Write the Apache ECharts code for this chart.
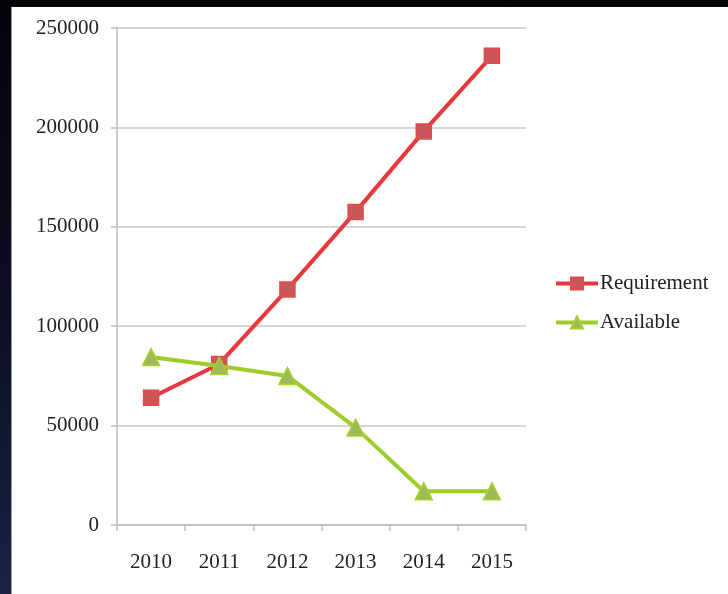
<!DOCTYPE html>
<html>
<head>
<meta charset="utf-8">
<script src="https://cdn.jsdelivr.net/npm/echarts@6/dist/echarts.min.js"></script>
<style>
  html, body { margin: 0; padding: 0; }
  body {
    width: 728px; height: 594px; overflow: hidden; position: relative;
    background: linear-gradient(180deg, #03040a 0%, #0d1024 55%, #1c2244 100%);
  }
  #chart {
    position: absolute; left: 11px; top: 7px; width: 717px; height: 587px;
    background: #ffffff; border-left: 1px solid #9a9aa0; box-sizing: border-box;
  }
</style>
</head>
<body>
<div id="chart"></div>
<script>
var years = ['2010', '2011', '2012', '2013', '2014', '2015'];
var requirement = [64000, 81000, 118500, 157500, 198000, 236000];
var available = [84500, 80000, 75000, 49000, 17000, 17000];

var chartDom = document.getElementById('chart');
var myChart = echarts.init(chartDom);

var fontName = 'Liberation Serif';

var option = {
  animation: false,
  backgroundColor: '#ffffff',
  grid: {
    left: 105,
    top: 21,
    width: 409,
    height: 497
  },
  legend: {
    orient: 'vertical',
    left: 542,
    top: 266,
    padding: 0,
    itemWidth: 42,
    itemHeight: 15,
    itemGap: 18,
    lineStyle: { width: 4 },
    textStyle: { fontFamily: fontName, fontSize: 21, color: '#222222', padding: [0, 0, 0, -3] },
    data: ['Requirement', 'Available']
  },
  xAxis: {
    type: 'category',
    data: years,
    boundaryGap: true,
    axisLine: { lineStyle: { color: '#bdbdbd', width: 1.5 } },
    axisTick: { show: true, length: 6, lineStyle: { color: '#bdbdbd', width: 1.5 } },
    axisLabel: { fontFamily: fontName, fontSize: 21, color: '#222222', margin: 27 }
  },
  yAxis: {
    type: 'value',
    min: 0,
    max: 250000,
    interval: 50000,
    axisLine: { show: true, lineStyle: { color: '#bdbdbd', width: 1.5 } },
    axisTick: { show: true, length: 6, lineStyle: { color: '#bdbdbd', width: 1.5 } },
    splitLine: { lineStyle: { color: '#c8c8c8', width: 1.5 } },
    axisLabel: {
      fontFamily: fontName, fontSize: 21, color: '#222222', margin: 18,
      formatter: function (v) { return String(v); }
    }
  },
  series: [
    {
      name: 'Requirement',
      type: 'line',
      data: requirement,
      symbol: 'rect',
      symbolSize: 15,
      lineStyle: { color: '#e8383d', width: 4 },
      itemStyle: { color: '#c8575a', borderColor: '#e8474b', borderWidth: 1.5 },
      z: 2
    },
    {
      name: 'Available',
      type: 'line',
      data: available,
      symbol: 'triangle',
      symbolSize: 17,
      lineStyle: { color: '#9dcc2b', width: 4 },
      itemStyle: { color: '#9bbb59', borderColor: '#a6d12e', borderWidth: 1.5 },
      z: 3
    }
  ]
};

myChart.setOption(option);
</script>
</body>
</html>
